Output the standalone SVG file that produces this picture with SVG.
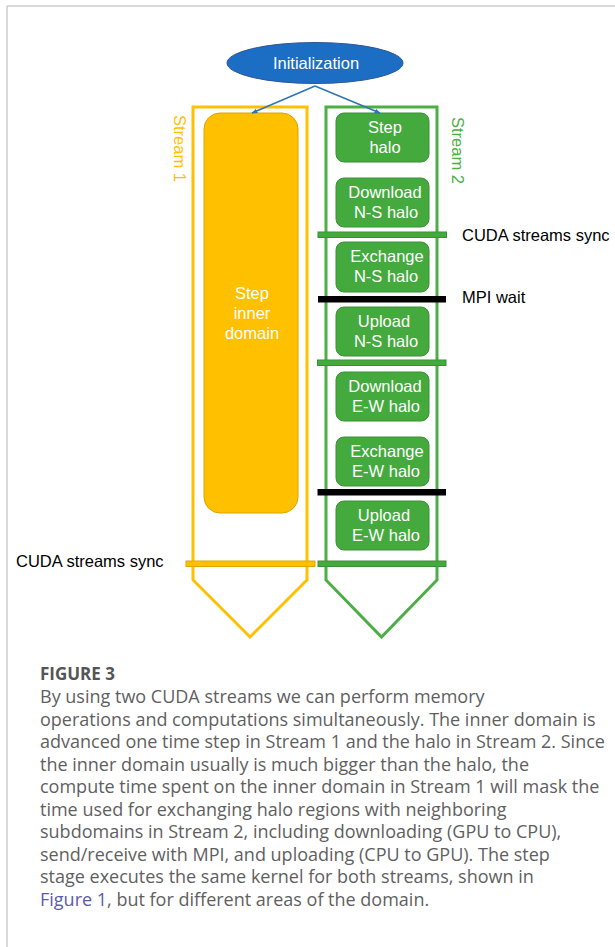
<svg xmlns="http://www.w3.org/2000/svg" width="615" height="947" viewBox="0 0 615 947">
  <style>
    .lbl { font-family: "Liberation Sans", Arial, sans-serif; font-size: 16.5px; }
    .box-text { font-family: "Liberation Sans", Arial, sans-serif; font-size: 16.5px; fill: #ffffff; text-anchor: middle; }
    .note { font-family: "Liberation Sans", Arial, sans-serif; font-size: 16.5px; fill: #000000; }
    .halo { fill: #44AA3E; stroke: #3A9135; stroke-width: 1; }
    .sync-g { fill: #44AA3E; stroke: #3A9135; stroke-width: 1; }
    .sync-y { fill: #FFC000; stroke: #E0A500; stroke-width: 1; }
    .wait { fill: #000000; }
    .cap { font-family: "Open Sans", "Noto Sans", sans-serif; font-size: 18px; fill: #5f5f5f; }
    .cap-title { font-family: "Open Sans", "Noto Sans", sans-serif; font-size: 17px; font-weight: bold; fill: #555555; }
    .link { fill: #5b5ba8; }
    .conn { stroke: #2E75B6; stroke-width: 1.5; fill: none; }
  </style>
  <defs>
    <marker id="arrow" viewBox="0 0 10 10" refX="9" refY="5" markerWidth="6" markerHeight="6" orient="auto-start-reverse" markerUnits="userSpaceOnUse">
      <path d="M0,1 L10,5 L0,9 z" fill="#2E75B6"/>
    </marker>
  </defs>

  <!-- page frame -->
  <g id="frame" stroke="#cccccc" stroke-width="1.5" fill="none">
    <line x1="7" y1="6" x2="615" y2="6"/>
    <line x1="7" y1="6" x2="7" y2="947"/>
  </g>

  <!-- stream lanes -->
  <g id="stream1">
    <polygon points="193,107 307,107 307,580 250,637 193,580" fill="none" stroke="#FFC000" stroke-width="3"/>
    <text class="lbl" fill="#FFC000" transform="translate(174,115) rotate(90)">Stream 1</text>
  </g>
  <g id="stream2">
    <polygon points="326,107 437,107 437,580 381.5,637 326,580" fill="none" stroke="#4CAF45" stroke-width="3"/>
    <text class="lbl" fill="#4CAF45" transform="translate(451.5,117) rotate(90)">Stream 2</text>
  </g>

  <!-- start node -->
  <g id="init">
    <ellipse cx="315" cy="63" rx="88" ry="20.5" fill="#1C6EC4" stroke="#2F5597" stroke-width="1"/>
    <text class="box-text" x="316" y="69">Initialization</text>
  </g>

  <!-- stream 1 work -->
  <g id="inner">
    <rect x="204" y="113" width="94" height="400" rx="16" fill="#FFC000" stroke="#DDA400" stroke-width="1"/>
    <text class="box-text" x="252" y="299">Step</text>
    <text class="box-text" x="252" y="319">inner</text>
    <text class="box-text" x="252" y="339">domain</text>
  </g>

  <!-- stream 2 work -->
  <g id="step-halo">
    <rect class="halo" x="336" y="113" width="93" height="49" rx="8"/>
    <text class="box-text" x="385" y="133">Step</text>
    <text class="box-text" x="385" y="153">halo</text>
  </g>
  <g id="download-ns">
    <rect class="halo" x="336" y="178" width="93" height="49" rx="8"/>
    <text class="box-text" x="385" y="198">Download</text>
    <text class="box-text" x="386" y="218">N-S halo</text>
  </g>
  <g id="exchange-ns">
    <rect class="halo" x="336" y="242" width="93" height="50" rx="8"/>
    <text class="box-text" x="387" y="262">Exchange</text>
    <text class="box-text" x="386" y="282">N-S halo</text>
  </g>
  <g id="upload-ns">
    <rect class="halo" x="336" y="307" width="93" height="49" rx="8"/>
    <text class="box-text" x="384" y="327">Upload</text>
    <text class="box-text" x="386" y="347">N-S halo</text>
  </g>
  <g id="download-ew">
    <rect class="halo" x="336" y="372" width="93" height="49" rx="8"/>
    <text class="box-text" x="385" y="392">Download</text>
    <text class="box-text" x="386" y="412">E-W halo</text>
  </g>
  <g id="exchange-ew">
    <rect class="halo" x="336" y="437" width="93" height="49" rx="8"/>
    <text class="box-text" x="387" y="457">Exchange</text>
    <text class="box-text" x="386" y="477">E-W halo</text>
  </g>
  <g id="upload-ew">
    <rect class="halo" x="336" y="501" width="93" height="49" rx="8"/>
    <text class="box-text" x="384" y="521">Upload</text>
    <text class="box-text" x="386" y="541">E-W halo</text>
  </g>

  <!-- synchronisation points -->
  <g id="sync-ns">
    <rect class="sync-g" x="318" y="232" width="128.5" height="5.5"/>
    <text class="note" x="462" y="241">CUDA streams sync</text>
  </g>
  <g id="mpi-wait-ns">
    <rect class="wait" x="318" y="296" width="128" height="6.5"/>
    <text class="note" x="462" y="303">MPI wait</text>
  </g>
  <g id="sync-ew">
    <rect class="sync-g" x="317.5" y="360" width="128.5" height="5.5"/>
  </g>
  <g id="mpi-wait-ew">
    <rect class="wait" x="317.5" y="489" width="128.5" height="6.5"/>
  </g>
  <g id="sync-end">
    <rect class="sync-y" x="186" y="561" width="129" height="5.5"/>
    <rect class="sync-g" x="318" y="561" width="128" height="5.5"/>
    <text class="note" x="16" y="567">CUDA streams sync</text>
  </g>

  <!-- connectors -->
  <g id="connectors">
    <line class="conn" x1="315" y1="86" x2="252" y2="113" marker-end="url(#arrow)"/>
    <line class="conn" x1="315" y1="86" x2="380" y2="113" marker-end="url(#arrow)"/>
  </g>

  <!-- caption -->
  <g id="caption">
    <text class="cap-title" x="40" y="680">FIGURE 3</text>
    <text class="cap" x="40" y="703">By using two CUDA streams we can perform memory</text>
    <text class="cap" x="40" y="725.5">operations and computations simultaneously. The inner domain is</text>
    <text class="cap" x="40" y="748">advanced one time step in Stream 1 and the halo in Stream 2. Since</text>
    <text class="cap" x="40" y="770.5">the inner domain usually is much bigger than the halo, the</text>
    <text class="cap" x="40" y="793">compute time spent on the inner domain in Stream 1 will mask the</text>
    <text class="cap" x="40" y="815.5">time used for exchanging halo regions with neighboring</text>
    <text class="cap" x="40" y="838">subdomains in Stream 2, including downloading (GPU to CPU),</text>
    <text class="cap" x="40" y="860.5">send/receive with MPI, and uploading (CPU to GPU). The step</text>
    <text class="cap" x="40" y="883">stage executes the same kernel for both streams, shown in</text>
    <text class="cap" x="40" y="905.5"><tspan class="link">Figure 1</tspan>, but for different areas of the domain.</text>
  </g>
</svg>
